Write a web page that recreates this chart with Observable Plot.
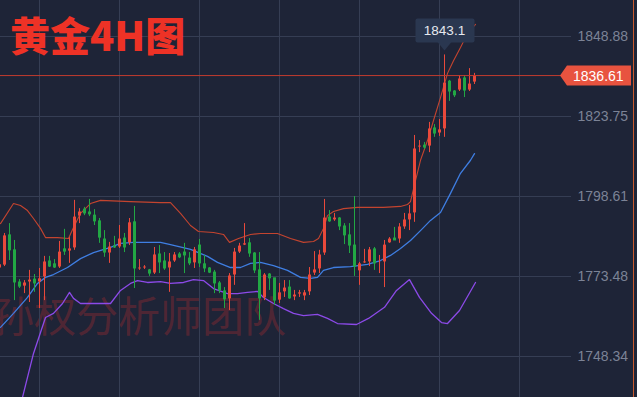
<!DOCTYPE html>
<html><head><meta charset="utf-8">
<script src="https://cdn.jsdelivr.net/npm/d3@7"></script>
<script src="https://cdn.jsdelivr.net/npm/@observablehq/plot@0.6"></script>
<style>
html,body{margin:0;padding:0;background:#1e2437;}
#wrap{position:relative;width:637px;height:397px;overflow:hidden;background:#1e2437;}
#wm{position:absolute;left:-8px;top:293px;font:400 42px "Noto Sans CJK SC";color:rgba(150,42,50,0.42);white-space:nowrap;line-height:1;}
#chart{position:absolute;left:0;top:0;}
#title{position:absolute;left:10px;top:14px;font:900 40px "Noto Sans CJK SC";color:#ee3226;line-height:1;white-space:nowrap;}
#edge{position:absolute;left:633px;top:0;width:1px;height:397px;background:#c9592c;}
</style></head>
<body><div id="wrap"><div id="wm">孙权分析师团队</div><div id="chart"></div><div id="title">黄金4H图</div><div id="edge"></div></div>
<script>
// ---- data (4H gold candles, oldest first) ----
const opens = [
1776.0,1776.9,1786.4,1781.7,1771.6,1770.3,1771.6,1772.5,1771.6,1773.2,
1778.2,1777.3,1776.3,1782.0,1781.3,1782.3,1792.3,1794.5,1793.6,1792.6,
1790.8,1785.1,1780.7,1782.9,1782.6,1785.4,1783.9,1790.5,1775.7,1776.0,
1775.4,1774.4,1780.4,1778.2,1776.0,1778.2,1780.4,1781.0,1779.1,1777.6,
1783.2,1777.3,1776.0,1774.7,1771.3,1768.8,1766.3,1773.8,1781.0,1783.2,
1783.9,1780.7,1775.4,1766.6,1774.1,1772.9,1765.9,1768.5,1770.0,1766.9,
1767.8,1767.2,1768.5,1774.4,1775.7,1780.7,1792.0,1791.1,1791.7,1789.2,
1786.4,1783.2,1775.1,1777.6,1777.9,1782.0,1777.6,1777.9,1783.9,1785.4,
1785.1,1788.9,1791.1,1793.3,1814.0,1814.6,1814.3,1820.0,1818.4,1819.7,
1834.7,1831.6,1831.9,1835.7,1831.9,1834.4];
const highs = [
1777.9,1787.0,1790.1,1784.8,1772.5,1772.2,1775.4,1774.1,1776.0,1779.8,
1779.8,1778.8,1784.5,1788.3,1785.7,1797.4,1794.8,1795.2,1797.7,1794.5,
1791.7,1787.9,1784.2,1786.1,1789.5,1787.0,1791.7,1795.5,1778.8,1776.9,
1775.7,1782.6,1783.2,1781.0,1780.7,1781.0,1781.0,1783.9,1781.0,1782.6,
1785.1,1780.1,1776.3,1775.4,1771.9,1770.0,1774.4,1782.3,1783.9,1790.1,
1785.4,1781.0,1781.0,1774.4,1774.4,1772.9,1771.3,1772.2,1772.2,1769.1,
1769.1,1769.1,1776.3,1781.3,1781.7,1797.7,1794.2,1793.3,1792.0,1790.1,
1790.1,1798.6,1777.9,1782.0,1782.6,1782.6,1780.1,1784.8,1785.7,1788.9,
1790.1,1793.3,1795.8,1817.8,1816.2,1815.6,1821.9,1821.2,1822.8,1843.1,
1835.1,1831.9,1836.6,1836.6,1838.8,1837.3];
const lows = [
1775.4,1776.6,1778.5,1765.9,1769.7,1768.1,1765.3,1768.5,1763.4,1765.9,
1776.3,1776.0,1776.0,1780.1,1777.6,1781.7,1790.1,1792.6,1792.3,1789.5,
1783.9,1779.5,1777.6,1782.3,1782.3,1781.0,1783.2,1769.7,1775.4,1775.7,
1773.5,1774.1,1774.4,1775.4,1768.5,1777.9,1779.1,1774.4,1776.9,1776.0,
1776.3,1774.7,1774.4,1768.1,1768.1,1763.4,1762.8,1770.7,1780.7,1783.2,
1779.5,1774.4,1759.7,1765.9,1769.1,1764.4,1765.0,1766.9,1766.3,1765.9,
1766.9,1765.9,1767.5,1773.8,1774.4,1780.1,1790.5,1790.8,1787.9,1783.5,
1780.7,1773.5,1770.7,1777.6,1776.6,1775.4,1774.4,1770.0,1783.9,1784.8,
1783.9,1788.3,1787.9,1790.5,1812.4,1813.4,1812.4,1817.2,1817.5,1817.2,
1828.5,1829.7,1831.6,1829.7,1831.6,1833.8];
const closes = [
1777.3,1786.4,1781.7,1771.6,1770.3,1771.6,1772.5,1771.3,1772.9,1778.2,
1776.6,1776.3,1781.3,1781.3,1782.3,1792.3,1793.9,1793.3,1793.0,1790.8,
1785.7,1781.0,1782.9,1782.6,1785.4,1782.6,1790.5,1776.0,1776.3,1776.6,
1774.4,1780.4,1777.9,1776.0,1778.2,1780.4,1779.5,1780.1,1777.6,1782.0,
1777.6,1776.0,1774.7,1771.3,1769.1,1766.3,1773.8,1781.3,1783.2,1783.9,
1780.7,1775.4,1766.6,1774.1,1772.9,1765.9,1768.5,1770.0,1766.6,1767.8,
1768.5,1768.5,1774.1,1775.7,1780.4,1792.0,1790.8,1792.0,1789.2,1786.4,
1783.2,1776.6,1777.6,1778.2,1782.0,1777.6,1777.9,1783.5,1785.4,1784.8,
1789.2,1791.4,1793.3,1813.7,1814.6,1814.0,1820.0,1818.4,1819.7,1834.4,
1831.6,1830.4,1835.7,1831.9,1834.1,1836.61];

// Bollinger bands: [candle index, price]
const upperBand = [[0.2,1790.1],[2.8,1796.4],[4.2,1795.8],[5.6,1794.2],[6.8,1791.7],[8.2,1788.6],[9.2,1785.7],[11.6,1785.7],[13.8,1785.4],[14.8,1788.9],[16.2,1793.3],[18.2,1796.4],[20.2,1797.4],[26.2,1797.0],[32.2,1796.7],[34.2,1796.7],[36.2,1793.3],[38.2,1789.5],[39.8,1787.6],[42.8,1787.3],[44.8,1786.7],[46,1784.2],[47.8,1785.4],[50.2,1786.7],[52.2,1787.0],[55.6,1787.0],[58.2,1785.4],[60.8,1784.2],[62.8,1784.5],[63.8,1785.4],[64.8,1788.6],[65.6,1792.6],[66.8,1793.9],[68.8,1794.8],[71.6,1795.2],[76.8,1795.2],[80.2,1795.5],[81.6,1796.1],[82.2,1797.0],[83.2,1803.6],[84.2,1810.0],[85.6,1816.2],[86.8,1822.5],[88.2,1829.7],[89.6,1837.3],[90.8,1841.3],[92.2,1845.4],[93.6,1849.8],[95.2,1852.7]];
const midBand = [[0.2,1757.5],[2.8,1761.9],[5.6,1766.9],[7.6,1771.3],[9.2,1773.2],[10.8,1774.1],[13.6,1776.3],[16.2,1779.1],[18.8,1781.0],[22.2,1782.6],[24.2,1783.9],[26.8,1784.2],[32.2,1784.2],[34.2,1783.5],[38.2,1782.0],[41.6,1779.8],[43.6,1777.9],[46.2,1776.3],[48.2,1776.3],[50.2,1777.6],[52.2,1777.9],[54.8,1776.9],[57.6,1775.4],[60.2,1773.2],[62.2,1772.9],[63.6,1773.2],[64.8,1775.4],[66.8,1776.3],[70.2,1776.6],[73.6,1777.3],[76.2,1778.5],[78.2,1780.1],[80.2,1782.3],[82.2,1784.8],[84.2,1787.9],[86.2,1791.1],[88.2,1793.6],[90.2,1799.6],[92.2,1805.9],[94.2,1810.0],[95,1812.1]];
const lowerBand = [[4.6,1735.5],[6.8,1749.3],[9.2,1760.6],[10.8,1761.9],[12.6,1765.0],[14,1768.5],[14.8,1766.6],[16.2,1765.0],[20.2,1765.0],[22.2,1765.0],[24.2,1769.1],[26.2,1771.3],[27.6,1772.2],[29.6,1771.6],[32.2,1771.9],[34.2,1771.3],[36.8,1771.6],[38.8,1772.5],[40.8,1772.2],[42.8,1769.7],[45.6,1768.1],[47.6,1768.1],[49.6,1768.5],[51.6,1768.8],[52.8,1766.9],[54.8,1765.0],[56.8,1763.4],[58.8,1761.9],[60.8,1761.2],[63.6,1761.6],[65.6,1760.3],[67.6,1758.7],[71.4,1758.4],[73.8,1760.3],[77,1763.8],[79.4,1769.1],[82,1772.5],[84,1766.9],[86.4,1761.9],[88.4,1759.0],[89.6,1758.7],[92,1762.8],[95.2,1771.6]];

const yTicks = [1748.34, 1773.48, 1798.61, 1823.75, 1848.88];
const xGridIdx = [8, 24, 40, 56, 72, 88, 104];
const lastPrice = 1836.61;

// ---- build ----
const candles = opens.map((o, i) => ({i, open: o, high: highs[i], low: lows[i], close: closes[i]}));
const upC = candles.filter(d => d.close >= d.open);
const downC = candles.filter(d => d.close < d.open);
const UP = "#e9493b", DOWN = "#22a744";
const W = 637, H = 397, MR = 66;
const xDomain = [0.2, 114.4], yDomain = [1735.46, 1860.20];

const chart = Plot.plot({
  width: W, height: H, marginLeft: 0, marginRight: MR, marginTop: 0, marginBottom: 0,
  style: {background: "transparent", overflow: "visible"},
  x: {domain: xDomain, axis: null},
  y: {domain: yDomain, axis: null},
  marks: [
    Plot.ruleY(yTicks, {stroke: "#363e54", strokeWidth: 1}),
    Plot.ruleX(xGridIdx, {stroke: "#363e54", strokeWidth: 1}),
    Plot.text(yTicks, {y: d => d, frameAnchor: "right", dx: 6, textAnchor: "start", text: d => d3.format(".2f")(d), fill: "#7c8396", fontSize: 14, fontFamily: "Liberation Sans, Arial, sans-serif"}),
    Plot.line(upperBand, {x: d => d[0], y: d => d[1], stroke: "#c4442f", strokeWidth: 1.1}),
    Plot.line(midBand, {x: d => d[0], y: d => d[1], stroke: "#3f7ee2", strokeWidth: 1.3}),
    Plot.line(lowerBand, {x: d => d[0], y: d => d[1], stroke: "#8c4ae8", strokeWidth: 1.3}),
    Plot.ruleX(upC, {x: "i", y1: "low", y2: "high", stroke: UP, strokeWidth: 1}),
    Plot.ruleX(downC, {x: "i", y1: "low", y2: "high", stroke: DOWN, strokeWidth: 1}),
    Plot.ruleX(upC, {x: "i", y1: "open", y2: "close", stroke: UP, strokeWidth: 3, insetTop: -0.5, insetBottom: -0.5}),
    Plot.ruleX(downC, {x: "i", y1: "open", y2: "close", stroke: DOWN, strokeWidth: 3, insetTop: -0.5, insetBottom: -0.5}),
    Plot.ruleY([lastPrice], {stroke: "#c23b2e", strokeWidth: 1})
  ]
});
document.getElementById("chart").appendChild(chart);

// scales for overlays
let xs, ys;
try { const sx = chart.scale("x"), sy = chart.scale("y"); xs = v => sx.apply(v); ys = v => sy.apply(v); if (isNaN(xs(1))) throw 0; }
catch (e) { const a = d3.scaleLinear(xDomain, [0, W - MR]), b = d3.scaleLinear(yDomain, [H, 0]); xs = a; ys = b; }

const svg = d3.select(chart);
// last price tag
const ly = Math.round(ys(lastPrice)) + 0.5;
svg.append("path")
  .attr("d", `M560,${ly}L567,${ly - 10}H631V${ly + 10}H567Z`)
  .attr("fill", "#e8533f");
svg.append("text").attr("x", 573).attr("y", ly).attr("dy", "0.36em").attr("text-anchor", "start")
  .attr("fill", "#ffffff").attr("font-size", 14).attr("font-family", "Liberation Sans, Arial, sans-serif")
  .text(d3.format(".2f")(lastPrice));

// peak label
let pk = 0; highs.forEach((h, i) => { if (h > highs[pk]) pk = i; });
const px = Math.round(xs(pk)) + 0.5, py = ys(highs[pk]);
const g = svg.append("g");
g.append("rect").attr("x", px - 29).attr("y", py - 36).attr("width", 59).attr("height", 24).attr("rx", 2).attr("fill", "#2a3750");
g.append("path").attr("d", `M${px - 7},${py - 12.5}L${px + 7},${py - 12.5}L${px},${py - 4}Z`).attr("fill", "#2a3750");
g.append("text").attr("x", px).attr("y", py - 24).attr("dy", "0.36em").attr("text-anchor", "middle")
  .attr("fill", "#e6e9ef").attr("font-size", 13.5).attr("font-family", "Liberation Sans, Arial, sans-serif")
  .text(String(highs[pk]));
</script>
</body></html>
